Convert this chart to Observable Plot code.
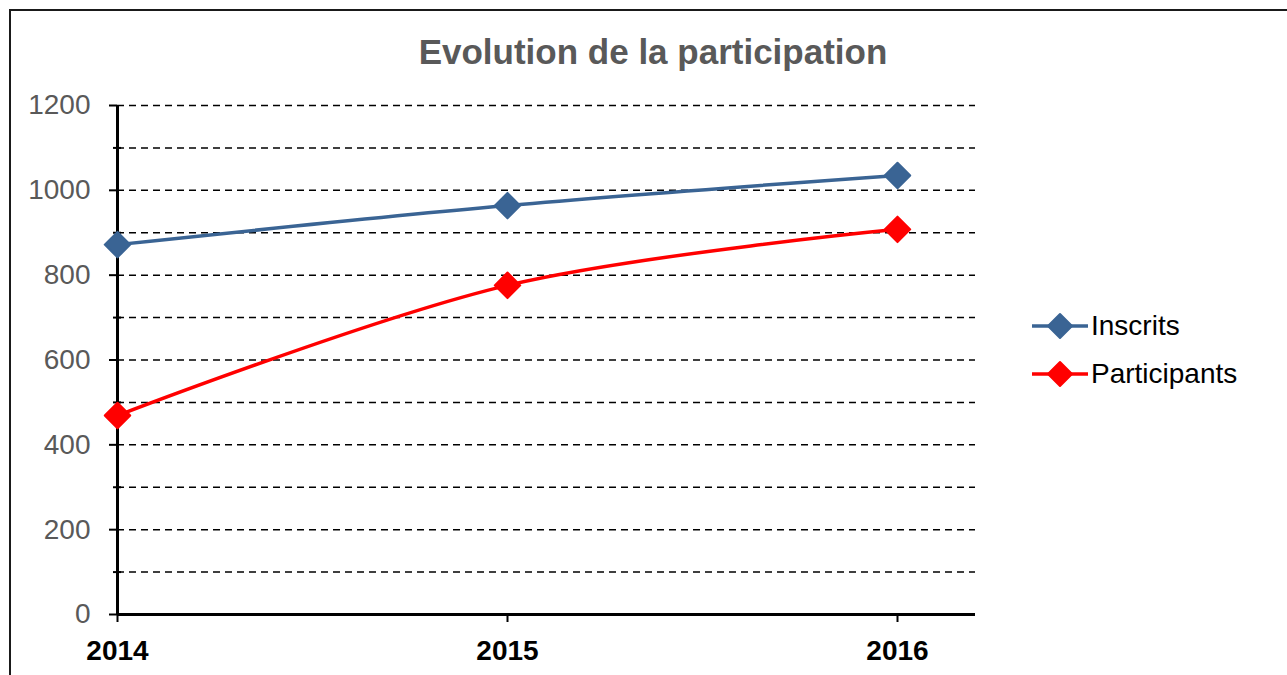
<!DOCTYPE html>
<html>
<head>
<meta charset="utf-8">
<script src="https://cdn.jsdelivr.net/npm/d3@7"></script>
<script src="https://cdn.jsdelivr.net/npm/@observablehq/plot@0.6"></script>
<style>
  html, body { margin: 0; padding: 0; background: #fff; }
  #wrap { position: relative; width: 1287px; height: 675px; overflow: hidden; font-family: "Liberation Sans", Arial, sans-serif; }
  #border { position: absolute; left: 9px; top: 9px; width: 1400px; height: 800px; border: 2px solid #1a1a1a; box-sizing: border-box; }
  #title { position: absolute; left: 0; width: 1306px; top: 32px; text-align: center; font-weight: bold; font-size: 35px; color: #595959; }
  #chart { position: absolute; left: 0; top: 0; }
  #legend { position: absolute; left: 1032px; top: 302px; font-size: 28px; color: #000; }
  .li { display: flex; align-items: center; height: 48px; }
  .li svg { margin-right: 3px; }
</style>
</head>
<body>
<div id="wrap">
  <div id="border"></div>
  <div id="chart"></div>
  <div id="title">Evolution de la participation</div>
  <div id="legend"></div>
</div>
<script>
const years = [2014, 2015, 2016];
const inscrits = [872, 964, 1035];
const participants = [469, 776, 908];
const seriesNames = ["Inscrits", "Participants"];
const seriesColors = ["#3A6494", "#FF0000"];
const majorTicks = [0, 200, 400, 600, 800, 1000, 1200];
const minorTicks = [100, 300, 500, 700, 900, 1100];
const gridValues = [100, 200, 300, 400, 500, 600, 700, 800, 900, 1000, 1100, 1200];

const data = [];
years.forEach((y, i) => {
  data.push({year: y, value: inscrits[i], series: seriesNames[0]});
  data.push({year: y, value: participants[i], series: seriesNames[1]});
});

const plot = Plot.plot({
  width: 1287,
  height: 675,
  marginLeft: 117,
  marginRight: 312,
  marginTop: 105,
  marginBottom: 61,
  style: {fontFamily: "Liberation Sans, Arial, sans-serif", background: "transparent"},
  x: {domain: [2014, 2016.2], label: null},
  y: {domain: [0, 1200], label: null},
  color: {domain: seriesNames, range: seriesColors},
  marks: [
    Plot.ruleY(gridValues, {stroke: "#000", strokeWidth: 1.5, strokeDasharray: "7,5"}),
    Plot.axisY({ticks: majorTicks, label: null, tickSize: 8, tickPadding: 19, tickFormat: d => String(d), fontSize: 28, fill: "#595959", stroke: "#000", strokeWidth: 2, strokeOpacity: 1}),
    Plot.axisY({ticks: minorTicks, label: null, tickSize: 8, dx: 4, tickFormat: () => "", stroke: "#000", strokeWidth: 2, strokeOpacity: 1}),
    Plot.axisX({ticks: years, label: null, tickSize: 8, tickPadding: 18, tickFormat: d => String(d), fontSize: 28, fontWeight: "bold", fill: "#000", stroke: "#000", strokeWidth: 2, strokeOpacity: 1}),
    Plot.ruleX([2014], {stroke: "#000", strokeWidth: 3}),
    Plot.ruleY([0], {stroke: "#000", strokeWidth: 3}),
    Plot.line(data, {x: "year", y: "value", z: "series", stroke: "series", strokeWidth: 3.5, curve: "catmull-rom"}),
    Plot.dot(data, {x: "year", y: "value", fill: "series", stroke: "series", strokeWidth: 2, strokeLinejoin: "round", symbol: "diamond2", r: 11.5})
  ]
});
document.getElementById("chart").appendChild(plot);

const legend = document.getElementById("legend");
seriesNames.forEach((name, i) => {
  const row = document.createElement("div");
  row.className = "li";
  const c = seriesColors[i];
  row.innerHTML = `<svg width="56" height="30" viewBox="0 0 56 30"><line x1="0" y1="15" x2="56" y2="15" stroke="${c}" stroke-width="3.5"/><path d="M28 3 L40 15 L28 27 L16 15 Z" fill="${c}" stroke="${c}" stroke-width="2" stroke-linejoin="round"/></svg><span>${name}</span>`;
  legend.appendChild(row);
});
</script>
</body>
</html>
